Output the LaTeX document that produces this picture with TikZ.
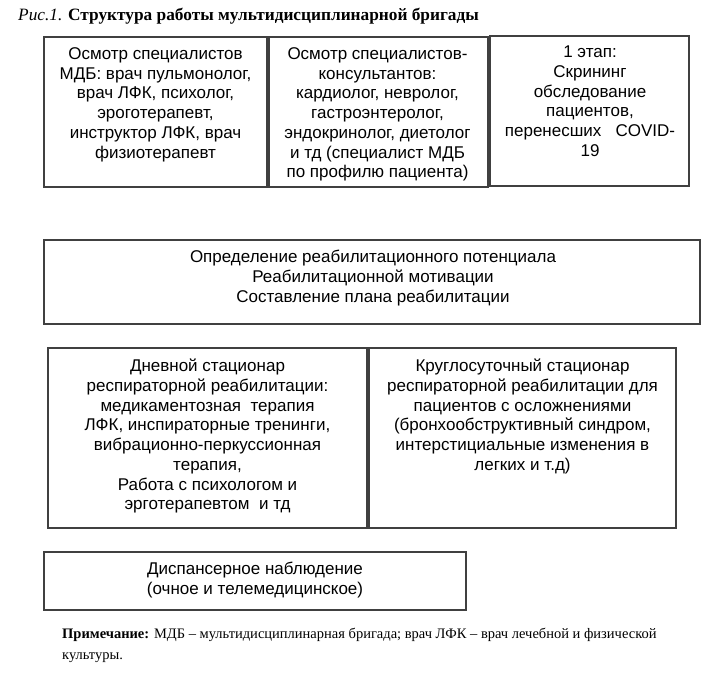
\documentclass[tikz,border=0pt]{standalone}
\usepackage{fontspec}
\setmainfont{Liberation Serif}
\newfontfamily\arialfont{Liberation Sans}
\begin{document}
\begin{tikzpicture}[x=1pt,y=-1pt,
  box/.style={draw=black!75,line width=1.2pt,anchor=north west,inner sep=0pt,outer sep=0pt},
  btext/.style={font=\arialfont\fontsize{17}{19.7}\selectfont,align=center,anchor=north,inner sep=0pt},
  capt/.style={font=\fontsize{17.3}{20}\selectfont,anchor=base west,inner sep=0pt},
  notetext/.style={font=\fontsize{14.5}{21}\selectfont,anchor=north west,align=left,inner sep=0pt}]
\useasboundingbox (0,0) rectangle (720,685);
% title
\node[capt] (title) at (18,21) {{\itshape Рис.1.} \textbf{Структура работы мультидисциплинарной бригады}};
% boxes
\node[box,minimum width=223pt,minimum height=150pt] (b1) at (44,37) {};
\node[box,minimum width=219pt,minimum height=150pt] (b2) at (269,37) {};
\node[box,minimum width=199pt,minimum height=150pt] (b3) at (490,36) {};
\node[box,minimum width=656pt,minimum height=84pt] (b4) at (44,240) {};
\node[box,minimum width=319pt,minimum height=180pt] (b5) at (48,348) {};
\node[box,minimum width=307pt,minimum height=180pt] (b6) at (369,348) {};
\node[box,minimum width=422pt,minimum height=58pt] (b7) at (44,552) {};
% texts
\node[btext] (t1) at (155.5,47.5) {Осмотр специалистов\\МДБ: врач пульмонолог,\\врач ЛФК, психолог,\\эроготерапевт,\\инструктор ЛФК, врач\\физиотерапевт};
\node[btext] (t2) at (377.5,47.5) {Осмотр специалистов-\\консультантов:\\кардиолог, невролог,\\гастроэнтеролог,\\эндокринолог, диетолог\\и тд (специалист МДБ\\по профилю пациента)};
\node[btext] (t3) at (590,46) {1 этап:\\Скрининг\\обследование\\пациентов,\\перенесших\ \ \ COVID-\\19};
\node[btext] (t4) at (373,250) {Определение реабилитационного потенциала\\Реабилитационной мотивации\\Составление плана реабилитации};
\node[btext] (t5) at (207.5,359) {Дневной стационар\\респираторной реабилитации:\\медикаментозная\ \ терапия\\ЛФК, инспираторные тренинги,\\вибрационно-перкуссионная\\терапия,\\Работа с психологом и\\эрготерапевтом\ \ и тд};
\node[btext] (t6) at (522.5,359) {Круглосуточный стационар\\респираторной реабилитации для\\пациентов с осложнениями\\(бронхообструктивный синдром,\\интерстициальные изменения в\\легких и т.д)};
\node[btext] (t7) at (255,562) {Диспансерное наблюдение\\(очное и телемедицинское)};
% note
\node[notetext] (note) at (62,628) {\textbf{Примечание:} МДБ – мультидисциплинарная бригада; врач ЛФК – врач лечебной и физической\\культуры.};
\end{tikzpicture}
\end{document}
